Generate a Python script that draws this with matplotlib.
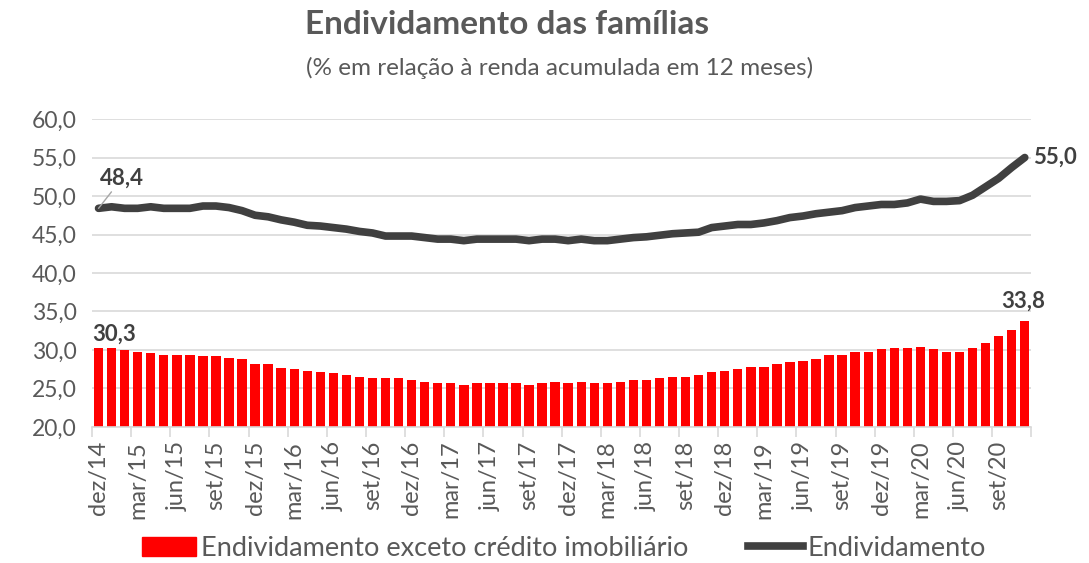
import matplotlib
matplotlib.use('Agg')
import matplotlib.pyplot as plt
from matplotlib.patches import Patch
from matplotlib.lines import Line2D

plt.rcParams['font.family'] = ['Lato', 'DejaVu Sans']

# Dados mensais dez/14 - nov/20
endividamento = [48.4, 48.6, 48.4, 48.4, 48.6, 48.4, 48.4, 48.4, 48.7, 48.7,
                 48.5, 48.1, 47.5, 47.3, 46.9, 46.6, 46.2, 46.1, 45.9, 45.7,
                 45.4, 45.2, 44.8, 44.8, 44.8, 44.6, 44.4, 44.4, 44.2, 44.4,
                 44.4, 44.4, 44.4, 44.2, 44.4, 44.4, 44.2, 44.4, 44.2, 44.2,
                 44.4, 44.6, 44.7, 44.9, 45.1, 45.2, 45.3, 45.9, 46.1, 46.3,
                 46.3, 46.5, 46.8, 47.2, 47.4, 47.7, 47.9, 48.1, 48.5, 48.7,
                 48.9, 48.9, 49.1, 49.6, 49.3, 49.3, 49.4, 50.1, 51.2, 52.3,
                 53.7, 55.0]

exceto_imob = [30.3, 30.3, 30.0, 29.8, 29.6, 29.4, 29.4, 29.4, 29.2, 29.2,
               29.0, 28.8, 28.2, 28.2, 27.7, 27.5, 27.3, 27.1, 27.0, 26.8,
               26.5, 26.3, 26.3, 26.3, 26.1, 25.9, 25.7, 25.7, 25.5, 25.7,
               25.7, 25.7, 25.7, 25.5, 25.7, 25.9, 25.7, 25.9, 25.7, 25.7,
               25.9, 26.1, 26.1, 26.3, 26.5, 26.5, 26.7, 27.1, 27.3, 27.5,
               27.8, 27.8, 28.2, 28.4, 28.6, 28.8, 29.3, 29.3, 29.7, 29.8,
               30.1, 30.3, 30.3, 30.4, 30.1, 29.8, 29.8, 30.3, 30.9, 31.8,
               32.6, 33.8]

tick_labels = ['dez/14', 'mar/15', 'jun/15', 'set/15', 'dez/15', 'mar/16',
               'jun/16', 'set/16', 'dez/16', 'mar/17', 'jun/17', 'set/17',
               'dez/17', 'mar/18', 'jun/18', 'set/18', 'dez/18', 'mar/19',
               'jun/19', 'set/19', 'dez/19', 'mar/20', 'jun/20', 'set/20']

x = list(range(len(endividamento)))
gray = '#595959'
dark = '#404040'

fig = plt.figure(figsize=(10.89, 5.63), dpi=100)
ax = fig.add_axes([0.0845, 0.2416, 0.8625, 0.547])

ax.bar(x, exceto_imob, width=0.72, color='#FF0000', zorder=2)
ax.plot(x, endividamento, color=dark, linewidth=5.5, solid_capstyle='round', zorder=3)

ax.set_xlim(-0.5, len(x) - 0.5)
ax.set_ylim(20, 60)
ax.set_yticks(range(20, 61, 5))
ax.set_yticklabels([f'{v},0' for v in range(20, 61, 5)])
ax.grid(axis='y', color='#D9D9D9', linewidth=1.2, zorder=0)
ax.set_axisbelow(True)

ax.set_xticks(x[::3])
ax.set_xticklabels(tick_labels, rotation=90)
ax.set_xticks([i - 0.5 for i in range(0, len(x) + 1, 3)], minor=True)
ax.tick_params(axis='x', which='major', length=0, pad=10, labelsize=17, labelcolor=gray)
ax.tick_params(axis='x', which='minor', length=7, width=1.2, color='#D9D9D9')
ax.tick_params(axis='y', length=0, pad=11, labelsize=16.5, labelcolor=gray)

for s in ['top', 'right', 'left']:
    ax.spines[s].set_visible(False)
ax.spines['bottom'].set_color('#D9D9D9')
ax.spines['bottom'].set_linewidth(1.2)

# rótulos de dados
lab = dict(fontsize=16, fontweight='bold', color=dark)
ax.annotate(f'{endividamento[0]:.1f}'.replace('.', ','), xy=(x[0], endividamento[0]),
            xytext=(x[0] + 0.1, 50.9), ha='left', va='bottom',
            arrowprops=dict(arrowstyle='-', color='#A6A6A6', lw=1, shrinkA=0, shrinkB=0), **lab)
ax.text(x[-1] + 0.6, endividamento[-1], f'{endividamento[-1]:.1f}'.replace('.', ','),
        ha='left', va='center', clip_on=False, **lab)
ax.text(x[0] - 0.5, exceto_imob[0] + 1.8, f'{exceto_imob[0]:.1f}'.replace('.', ','),
        ha='left', va='center', **lab)
ax.text(x[-1] - 0.1, exceto_imob[-1] + 2.5, f'{exceto_imob[-1]:.1f}'.replace('.', ','),
        ha='center', va='center', clip_on=False, **lab)

fig.text(0.466, 0.957, 'Endividamento das famílias', ha='center', va='center',
         fontsize=24, fontweight='bold', color=gray)
fig.text(0.514, 0.879, '(% em relação à renda acumulada em 12 meses)', ha='center', va='center',
         fontsize=17.5, color=gray)

handles = [Patch(color='#FF0000'), Line2D([0], [0], color=dark, linewidth=5.5)]
fig.legend(handles, ['Endividamento exceto crédito imobiliário', 'Endividamento'],
           loc='center', bbox_to_anchor=(0.518, 0.026), ncol=2, frameon=False,
           fontsize=19.5, labelcolor=gray, handlelength=2.0, handleheight=0.7,
           handletextpad=0.2, columnspacing=2.2, borderpad=0)

fig.savefig('out.png', dpi=100)
